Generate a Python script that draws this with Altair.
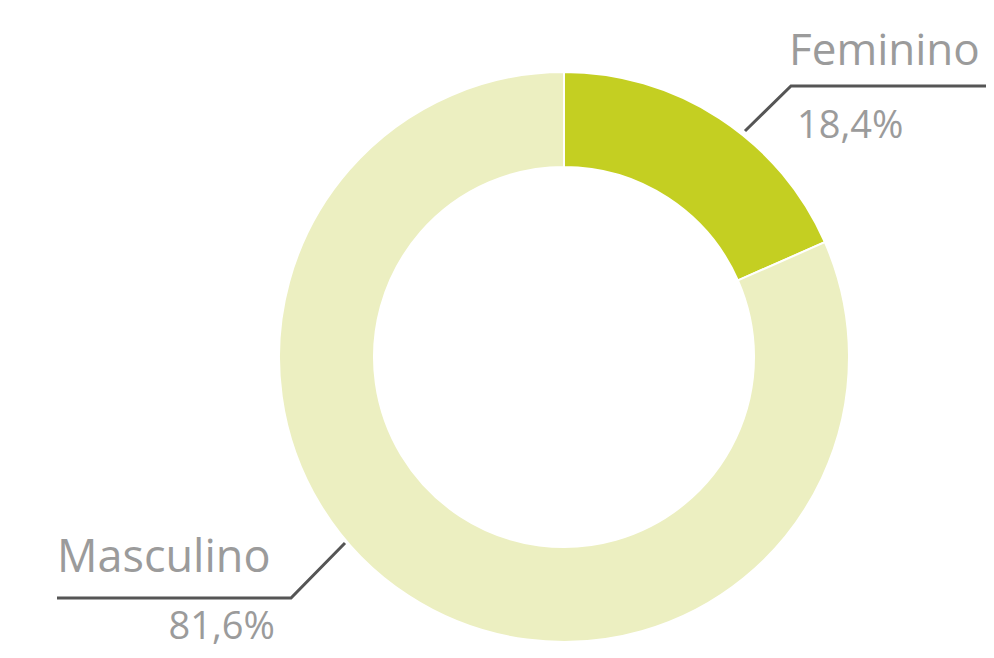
import altair as alt
import pandas as pd

categories = ["Feminino", "Masculino"]
values = [18.4, 81.6]
value_labels = ["18,4%", "81,6%"]
colors = ["#c4cf22", "#ecefc1"]

# annotation layout (chart pixel units)
W, H = 978, 642
CX, CY = 556, 349
line_group = ["Feminino", "Feminino", "Feminino", "Masculino", "Masculino", "Masculino"]
line_order = [0, 1, 2, 0, 1, 2]
line_x = [737, 783, 978, 337, 283, 49]
line_y = [123, 78, 78, 535, 590, 590]

name_x = [781, 49]
name_y = [57, 564]
name_size = [44, 45]
pct_x = [789, 267]
pct_y = [130, 631]
pct_align = ["left", "right"]

arc_df = pd.DataFrame({"cat": categories, "val": values, "ord": [0, 1]})
line_df = pd.DataFrame({"g": line_group, "o": line_order, "x": line_x, "y": line_y})
name_df = pd.DataFrame({"t": categories, "x": name_x, "y": name_y, "s": name_size})
pct_df = pd.DataFrame({"t": value_labels, "x": pct_x, "y": pct_y, "a": pct_align})

xs = alt.Scale(domain=[0, W], range=[0, W], nice=False, zero=False)
ys = alt.Scale(domain=[0, H], range=[0, H], nice=False, zero=False)

arc = alt.Chart(arc_df).mark_arc(
    outerRadius=285, innerRadius=190, stroke="white", strokeWidth=2
).encode(
    theta=alt.Theta("val:Q", stack=True),
    order=alt.Order("ord:Q"),
    color=alt.Color("cat:N", scale=alt.Scale(domain=categories, range=colors), legend=None),
    x=alt.value(CX),
    y=alt.value(CY),
)

lines = alt.Chart(line_df).mark_line(color="#555555", strokeWidth=3).encode(
    x=alt.X("x:Q", scale=xs, axis=None),
    y=alt.Y("y:Q", scale=ys, axis=None),
    detail="g:N",
    order="o:Q",
)

names = alt.Chart(name_df).mark_text(
    align="left", baseline="alphabetic", font="Open Sans", color="#9b9b9b"
).encode(
    x=alt.X("x:Q", scale=xs, axis=None),
    y=alt.Y("y:Q", scale=ys, axis=None),
    size=alt.Size("s:Q", scale=None, legend=None),
    text="t:N",
)

pct_left = alt.Chart(pct_df[pct_df.a == "left"]).mark_text(
    align="left", baseline="alphabetic", font="Open Sans", fontSize=38, color="#9b9b9b"
).encode(
    x=alt.X("x:Q", scale=xs, axis=None),
    y=alt.Y("y:Q", scale=ys, axis=None),
    text="t:N",
)
pct_right = alt.Chart(pct_df[pct_df.a == "right"]).mark_text(
    align="right", baseline="alphabetic", font="Open Sans", fontSize=38, color="#9b9b9b"
).encode(
    x=alt.X("x:Q", scale=xs, axis=None),
    y=alt.Y("y:Q", scale=ys, axis=None),
    text="t:N",
)

chart = alt.layer(arc, lines, names, pct_left, pct_right).properties(
    width=W, height=H, padding=0, autosize=alt.AutoSizeParams(type="none")
).configure_view(stroke=None)

chart.save("out.html", embed_options={"renderer": "svg", "actions": False})
